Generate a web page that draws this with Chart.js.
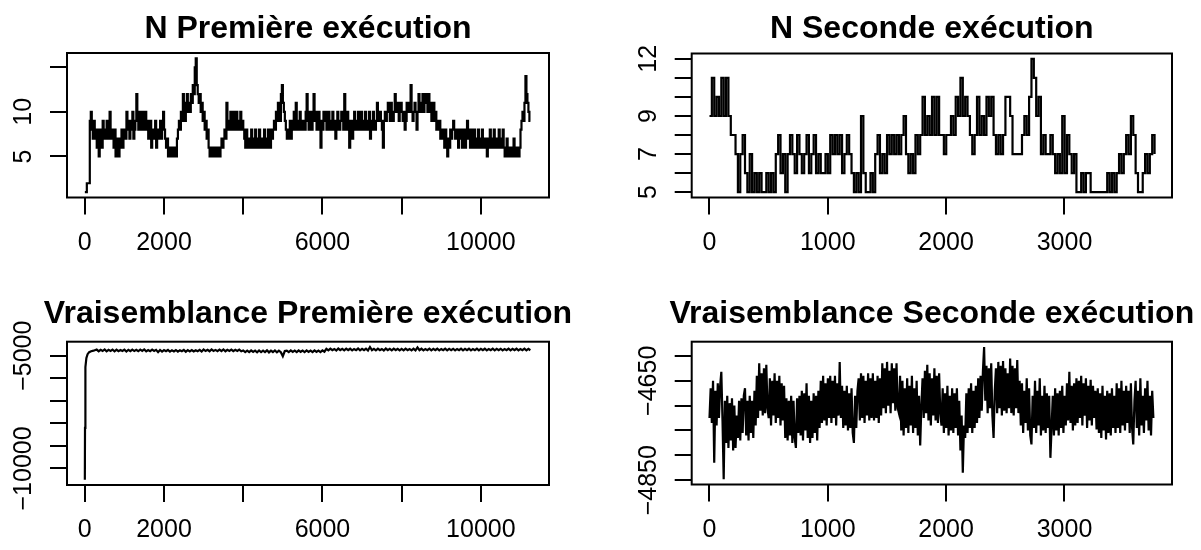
<!DOCTYPE html>
<html>
<head>
<meta charset="utf-8">
<title>Traces des chaînes</title>
<script src="https://cdn.jsdelivr.net/npm/chart.js@4.4.1/dist/chart.umd.min.js"></script>
<style>
  body { margin: 0; background: #fff; }
  #wrap { position: relative; width: 1201px; height: 550px; }
  canvas { position: absolute; }
</style>
</head>
<body>
<div id="wrap">
  <canvas id="c1" width="600" height="275" style="left:0;top:0"></canvas>
  <canvas id="c2" width="601" height="275" style="left:600px;top:0"></canvas>
  <canvas id="c3" width="600" height="275" style="left:0;top:275px"></canvas>
  <canvas id="c4" width="601" height="275" style="left:600px;top:275px"></canvas>
</div>
<script>
// N, première exécution (une valeur gardée toutes les 25 itérations)
const n1Iter = 11270;
const n1Thin = 25;
const n1Values = [
  1, 1, 2, 2, 2, 9, 10,
  8, 7, 9, 7, 8, 6, 8, 5, 7, 8, 6, 9, 7, 8,
  7, 9, 7, 8, 10, 7, 8, 7, 6, 8, 5, 6, 7, 5, 6, 7, 8, 6, 7, 8,
  7, 10, 8, 9, 7, 9, 8, 10, 7, 8, 9, 12, 10, 8, 9, 10, 8, 10, 9, 8,
  10, 8, 9, 7, 8, 9, 6, 7, 8, 7, 9, 6, 8, 7, 8, 9, 7, 8, 10, 8,
  7, 6, 7, 5, 6, 5, 6, 5, 6, 5, 6, 5,
  7, 8, 9, 8, 10, 9, 12, 10, 9, 11, 12, 10, 11, 10, 12, 11, 13, 12, 15, 16,
  13, 12, 11, 12, 10, 11, 9, 10, 8, 9, 7, 8,
  6, 5, 6, 5, 6, 5, 6, 5, 6, 5, 6, 5, 6, 7, 6, 7,
  8, 7, 11, 8, 9, 8, 10, 9, 8, 10, 8, 9, 10, 8, 9, 8, 10, 8, 9, 8,
  7, 6, 8, 6, 7, 6, 7, 8, 6, 7, 6, 8, 6, 7, 6, 8, 6, 7, 6, 7, 8, 6, 7, 6, 8, 7, 6, 8, 7, 8,
  9, 8, 10, 9, 11, 10, 9, 12, 13, 11, 10, 9,
  8, 7, 8, 7, 9, 7, 9, 8, 10, 8, 11, 8, 9, 8, 10, 8, 9, 8,
  9, 8, 10, 12, 9, 8, 10, 9, 8, 10, 12, 9, 10, 8, 9, 10, 8, 6, 9, 8,
  10, 9, 10, 8, 9, 10, 8, 9, 8, 10, 8, 9, 7, 8, 10, 9, 8, 9, 10, 9,
  8, 12, 9, 8, 10, 9, 6, 8, 9, 7, 8, 10, 9, 8, 9, 10, 8, 9, 10, 8,
  9, 8, 10, 9, 8, 9, 10, 7, 9, 8, 10, 9, 8, 9, 11, 10, 9, 10, 9, 8,
  6, 9, 10, 9, 10, 11, 10, 9, 11, 10, 9, 10, 12, 11, 10, 11, 9, 10, 11, 10,
  9, 10, 8, 9, 11, 10, 11, 10, 13, 10, 9, 10, 11, 10, 8, 10, 12, 11, 10, 11,
  12, 10, 11, 12, 11, 10, 12, 10, 11, 9, 10, 11, 9, 10, 8, 9, 8, 9, 7, 8,
  7, 8, 6, 8, 7, 5, 7, 6, 8, 7, 8, 9, 8, 7, 8, 7, 6, 8, 7, 8,
  6, 7, 8, 6, 7, 9, 7, 8, 6, 8, 7, 6, 8, 7, 6, 7, 8, 6, 7, 6,
  8, 7, 6, 7, 6, 5, 7, 6, 8, 7, 6, 7, 8, 6, 7, 6, 7, 8, 6, 7,
  6, 8, 6, 5, 6, 7, 5, 6, 5, 6, 5, 6, 7, 5, 6, 5, 6, 5, 6,
  8, 9, 10, 9, 11, 14, 12, 11, 10, 9, 9
];

// N, seconde exécution (toutes les 20 itérations)
const n2Iter = 3758;
const n2Thin = 20;
const n2Values = [
  9, 11, 9, 10, 9, 11, 9, 11, 9, 8,
  8, 7, 5, 7, 8, 6, 5, 7, 5, 6,
  5, 6, 5, 5, 6, 5, 6, 5, 7, 8,
  6, 7, 5, 7, 8, 7, 6, 8, 7, 6,
  7, 8, 6, 7, 8, 6, 7, 6, 6, 7,
  6, 8, 7, 8, 7, 8, 6, 7, 8, 7,
  6, 5, 6, 5, 9, 6, 5, 5, 6, 5,
  7, 8, 6, 7, 6, 8, 7, 8, 7, 8,
  7, 8, 9, 7, 6, 7, 6, 8, 7, 8,
  10, 8, 9, 8, 10, 8, 10, 8, 8, 7,
  8, 8, 9, 8, 10, 9, 11, 9, 10, 9,
  8, 7, 8, 10, 8, 9, 8, 10, 9, 10,
  8, 7, 8, 7, 8, 10, 10, 9, 7, 7,
  7, 7, 8, 9, 8, 10, 12, 11, 9, 10,
  7, 8, 7, 7, 8, 7, 6, 7, 6, 9,
  6, 8, 7, 6, 7, 5, 5, 6, 5, 6,
  6, 5, 5, 5, 5, 5, 5, 5, 6, 5,
  6, 5, 6, 7, 6, 7, 8, 7, 9, 8,
  6, 5, 5, 6, 7, 6, 7, 8, 7
];

// Vraisemblance, première exécution : début de chaîne puis une valeur toutes les 50 itérations
const v1StartIter = [1, 5, 10, 20, 40, 70, 110, 160, 220];
const v1StartValues = [-10500, -8200, -6400, -5500, -5100, -4930, -4840, -4800, -4775];
const v1From = 300;
const v1Thin = 50;
const v1Values = [
  -4725, -4800, -4735, -4790, -4720, -4805, -4740, -4785, -4730, -4800, -4725, -4795, -4745, -4790, -4730, -4810,
  -4735, -4795, -4725, -4790, -4740, -4800, -4730, -4785, -4720, -4805, -4745, -4795, -4730, -4790, -4740, -4840,
  -4745, -4815, -4750, -4800, -4740, -4820, -4755, -4805, -4745, -4815, -4760,
  -4800, -4740, -4825, -4750, -4805, -4745, -4810, -4755, -4800, -4740, -4815,
  -4725, -4790, -4735, -4800, -4720, -4785, -4740, -4795, -4730, -4790,
  -4720, -4800, -4735, -4785, -4725, -4795, -4740, -4790, -4730, -4800,
  -4765, -4835, -4770, -4840, -4760, -4830, -4775, -4845, -4765, -4835,
  -4770, -4840, -4760, -4850, -4775, -4835, -4765, -4845, -4770, -4840,
  -5020, -4790,
  -4770, -4835, -4765, -4830, -4775, -4840, -4760, -4825, -4770, -4835,
  -4765, -4830, -4775, -4840, -4760, -4830, -4770, -4835, -4765, -4820,
  -4690, -4760, -4685, -4755, -4700, -4765, -4680, -4750, -4695, -4760,
  -4685, -4755, -4690, -4765, -4700, -4750, -4680, -4760, -4695, -4755,
  -4685, -4765, -4612, -4750, -4690, -4760, -4685, -4755, -4700, -4765,
  -4680, -4750, -4695, -4760, -4685, -4755, -4690, -4760,
  -4695, -4760, -4685, -4755, -4700, -4765, -4690, -4760, -4630, -4755,
  -4690, -4765, -4700, -4750, -4685, -4760, -4695, -4755, -4690, -4765,
  -4700, -4755, -4685, -4760, -4695, -4750, -4690, -4765, -4700, -4755,
  -4685, -4760, -4695, -4755, -4690, -4765, -4700, -4750, -4685, -4760,
  -4695, -4755, -4690, -4765, -4700, -4755, -4685, -4760, -4695, -4750,
  -4690, -4765, -4700, -4755, -4685, -4760, -4695, -4755, -4690, -4765,
  -4700, -4750, -4685, -4760, -4695, -4755
];

// Vraisemblance, seconde exécution (toutes les 10 itérations)
const v2Iter = 3758;
const v2Thin = 10;
const v2Values = [
  -4725, -4665, -4735, -4650, -4815, -4670, -4740, -4655, -4725, -4660, -4632, -4730, -4848,
  -4690, -4775, -4680, -4785, -4695, -4770, -4685, -4790, -4700, -4785, -4720,
  -4765, -4690, -4770, -4685, -4755, -4680, -4665, -4760, -4690, -4770, -4680, -4755, -4690, -4765, -4670, -4740,
  -4640, -4725, -4615, -4710, -4635, -4720, -4625, -4715, -4618, -4705,
  -4725, -4645, -4740, -4650, -4720, -4635, -4735, -4650, -4725, -4640, -4740, -4655, -4730, -4660,
  -4765, -4685, -4770, -4690, -4760, -4680, -4775, -4690, -4765, -4785, -4685, -4755,
  -4680, -4760, -4670, -4770, -4675, -4750, -4655, -4765, -4680, -4775, -4690, -4765, -4675, -4755, -4680, -4770, -4670, -4745,
  -4650, -4735, -4640, -4730, -4655, -4740, -4645, -4725, -4640, -4735, -4650, -4725, -4640, -4740, -4655, -4720, -4612, -4725,
  -4660, -4745, -4670, -4740, -4660, -4750, -4675, -4745, -4665, -4755, -4775, -4680, -4745, -4670,
  -4645, -4730, -4635, -4725, -4640, -4735, -4650, -4720, -4635, -4730, -4645, -4725, -4635, -4730, -4650, -4725, -4640, -4735, -4645, -4720,
  -4615, -4705, -4625, -4715, -4612, -4700, -4630, -4715, -4615, -4695, -4625, -4710, -4615, -4705,
  -4715, -4640, -4750, -4650, -4760, -4665, -4745, -4645, -4755, -4660, -4740, -4640, -4755, -4665, -4745, -4650, -4760, -4680, -4780, -4700,
  -4645, -4725, -4630, -4715, -4618, -4730, -4635, -4740, -4645, -4720, -4625, -4730, -4640, -4735, -4635, -4715,
  -4740, -4665, -4755, -4675, -4745, -4660, -4760, -4680, -4750, -4665, -4755, -4675, -4745, -4665, -4760, -4690, -4790, -4720, -4835, -4740,
  -4765, -4675, -4755, -4665, -4745, -4655, -4755, -4670, -4745, -4660, -4735, -4645, -4725, -4640, -4710, -4630,
  -4582, -4690,
  -4620, -4715, -4625, -4705, -4615, -4720, -4765, -4670,
  -4625, -4715, -4612, -4705, -4620, -4720, -4610, -4710, -4625, -4715, -4635, -4705, -4605, -4715, -4620, -4720, -4625, -4705, -4608, -4715,
  -4650, -4740, -4655, -4755, -4670, -4735, -4645, -4750, -4665, -4760, -4778, -4680, -4745, -4650,
  -4755, -4670, -4740, -4645, -4760, -4680, -4750, -4660, -4755, -4675, -4745, -4680, -4805, -4745,
  -4680, -4760, -4665, -4750, -4675, -4760, -4670, -4745, -4660, -4755, -4680, -4740, -4655, -4730, -4632, -4735, -4660, -4750, -4655, -4740,
  -4645, -4735, -4650, -4725, -4640, -4740, -4655, -4720, -4645, -4745, -4660, -4730, -4648, -4740, -4660, -4725, -4670, -4748,
  -4665, -4755, -4675, -4765, -4660, -4750, -4680, -4768, -4670, -4755, -4675, -4760, -4665, -4745, -4680, -4755,
  -4655, -4745, -4665, -4755, -4650, -4740, -4670, -4750, -4660, -4735, -4670, -4755, -4655, -4745, -4778, -4690,
  -4650, -4745, -4670, -4760, -4645, -4740, -4680, -4755, -4665, -4730, -4650, -4750, -4680, -4760, -4670, -4725
];

// graduations et libellés (R saute ceux qui se chevauchent)
const longTicks = [0, 2000, 4000, 6000, 8000, 10000];
const longLabels = ['0', '2000', '', '6000', '', '10000'];
const shortTicks = [0, 1000, 2000, 3000];
const shortLabels = ['0', '1000', '2000', '3000'];
const n1YTicks = [5, 10, 15];
const n1YLabels = ['5', '10', ''];
const n2YTicks = [5, 6, 7, 8, 9, 10, 11, 12];
const n2YLabels = ['5', '', '7', '', '9', '', '', '12'];
const v1YTicks = [-10000, -9000, -8000, -7000, -6000, -5000];
const v1YLabels = ['\u221210000', '', '', '', '', '\u22125000'];
const v2YTicks = [-4850, -4800, -4750, -4700, -4650, -4600];
const v2YLabels = ['\u22124850', '', '', '', '\u22124650', ''];

const titles = [
  'N Première exécution',
  'N Seconde exécution',
  'Vraisemblance Première exécution',
  'Vraisemblance Seconde exécution'
];

const FONT = '"Liberation Sans", Arial, Helvetica, sans-serif';

// étendue façon R : plage des données élargie de 4 %
function rRange(lo, hi) {
  const d = (hi - lo) * 0.04;
  return [lo - d, hi + d];
}

function thinned(values, from, step) {
  return values.map((v, i) => ({ x: from + i * step, y: v }));
}

// cadre, libellés des graduations et titre dessinés comme le fait plot()
function rFrame(p) {
  return {
    id: 'rFrame',
    afterDraw(chart) {
      const { ctx, chartArea: a, scales: { x, y } } = chart;
      ctx.save();
      ctx.strokeStyle = '#000';
      ctx.lineWidth = 2;
      ctx.strokeRect(a.left, a.top, a.right - a.left, a.bottom - a.top);
      ctx.fillStyle = '#000';
      ctx.font = '25px ' + FONT;
      ctx.textAlign = 'center';
      ctx.textBaseline = 'alphabetic';
      p.xTicks.forEach((v, i) => {
        if (p.xLabels[i]) ctx.fillText(p.xLabels[i], x.getPixelForValue(v), a.bottom + 52);
      });
      p.yTicks.forEach((v, i) => {
        if (!p.yLabels[i]) return;
        ctx.save();
        ctx.translate(a.left - 36, y.getPixelForValue(v));
        ctx.rotate(-Math.PI / 2);
        ctx.fillText(p.yLabels[i], 0, 0);
        ctx.restore();
      });
      ctx.font = 'bold 32px ' + FONT;
      ctx.fillText(p.title, (a.left + a.right) / 2, p.titleY);
      ctx.restore();
    }
  };
}

function tracePlot(id, p) {
  const canvas = document.getElementById(id);
  const W = canvas.width, H = canvas.height;
  const ys = p.points.map(pt => pt.y);
  const [xmin, xmax] = rRange(1, p.nIter);
  const [ymin, ymax] = rRange(Math.min(...ys), Math.max(...ys));
  const tickGrid = { drawOnChartArea: false, drawTicks: true, tickLength: 17, color: '#000', lineWidth: 2 };

  return new Chart(canvas.getContext('2d'), {
    type: 'line',
    data: {
      datasets: [{
        data: p.points,
        borderColor: '#000',
        borderWidth: 2.2,
        pointRadius: 0,
        tension: 0,
        fill: false,
        stepped: p.stepped
      }]
    },
    options: {
      responsive: false,
      animation: false,
      events: [],
      parsing: false,
      layout: { padding: { left: 0, top: p.box.top, right: W - p.box.right, bottom: 0 } },
      plugins: { legend: { display: false }, tooltip: { enabled: false } },
      scales: {
        x: {
          type: 'linear', bounds: 'data', min: xmin, max: xmax,
          afterFit: s => { s.height = H - p.box.bottom; },
          afterBuildTicks: s => { s.ticks = p.xTicks.map(v => ({ value: v })); },
          ticks: { display: false },
          grid: tickGrid,
          border: { display: false }
        },
        y: {
          type: 'linear', bounds: 'data', min: ymin, max: ymax,
          afterFit: s => { s.width = p.box.left; },
          afterBuildTicks: s => { s.ticks = p.yTicks.map(v => ({ value: v })); },
          ticks: { display: false },
          grid: tickGrid,
          border: { display: false }
        }
      }
    },
    plugins: [rFrame(p)]
  });
}

tracePlot('c1', {
  points: thinned(n1Values, 1, n1Thin), nIter: n1Iter, stepped: true,
  box: { left: 67, right: 549, top: 53, bottom: 197.5 },
  xTicks: longTicks, xLabels: longLabels, yTicks: n1YTicks, yLabels: n1YLabels,
  title: titles[0], titleY: 38
});

tracePlot('c2', {
  points: thinned(n2Values, 1, n2Thin), nIter: n2Iter, stepped: true,
  box: { left: 91.7, right: 572, top: 53.5, bottom: 197.5 },
  xTicks: shortTicks, xLabels: shortLabels, yTicks: n2YTicks, yLabels: n2YLabels,
  title: titles[1], titleY: 38
});

tracePlot('c3', {
  points: v1StartIter.map((it, i) => ({ x: it, y: v1StartValues[i] }))
    .concat(thinned(v1Values, v1From, v1Thin)),
  nIter: n1Iter, stepped: false,
  box: { left: 67, right: 549, top: 66.7, bottom: 210 },
  xTicks: longTicks, xLabels: longLabels, yTicks: v1YTicks, yLabels: v1YLabels,
  title: titles[2], titleY: 48
});

tracePlot('c4', {
  points: thinned(v2Values, 1, v2Thin), nIter: v2Iter, stepped: false,
  box: { left: 91.7, right: 572, top: 66.7, bottom: 209.5 },
  xTicks: shortTicks, xLabels: shortLabels, yTicks: v2YTicks, yLabels: v2YLabels,
  title: titles[3], titleY: 48
});
</script>
</body>
</html>
